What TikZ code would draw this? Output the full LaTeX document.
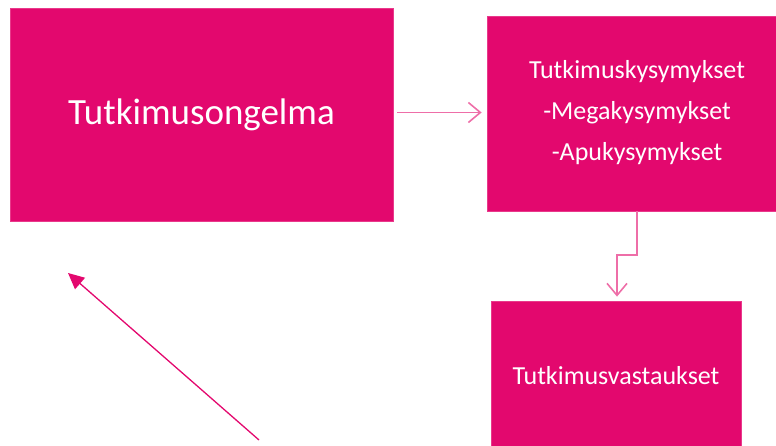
\documentclass[tikz,border=0pt]{standalone}
\usepackage{fontspec}
\setmainfont{Carlito}
\usepackage{tikz}
\usetikzlibrary{arrows.meta}
\definecolor{magentabox}{RGB}{227,8,110}
\definecolor{pinkline}{RGB}{238,110,168}
\tikzset{
  box/.style={fill=magentabox, draw=magentabox!80!white, line width=0.8pt, text=white, align=center, inner sep=0pt},
  lightarrow/.style={draw=pinkline, line width=1.8pt, -{Straight Barb[length=12pt,width=20pt,line width=1.6pt]}},
}
\begin{document}
\begin{tikzpicture}[x=1pt,y=-1pt]
  \useasboundingbox (0,0) rectangle (776,446);
  % boxes
  \node[box, minimum width=383pt, minimum height=213pt, font=\fontsize{37}{44}\selectfont] (problem) at (201.5,114.5) {Tutkimusongelma};
  \node[box, minimum width=290pt, minimum height=195pt] (questions) at (632,113.5) {};
  \node[text=white, align=center, font=\fontsize{26}{41}\selectfont] (questionstext) at (637,113) {Tutkimuskysymykset\\-Megakysymykset\\-Apukysymykset};
  \node[box, minimum width=250pt, minimum height=150pt, font=\fontsize{26}{30}\selectfont] (answers) at (616,376) {Tutkimusvastaukset};
  % connectors
  \coordinate (p1) at ([xshift=4pt,yshift=2pt]problem.east);
  \coordinate (p2) at (p1 -| questions.west);
  \draw[lightarrow] (p1) -- ([xshift=-5pt]p2);
  \draw[lightarrow] ([xshift=5pt]questions.south) -- ++(0,44) -| ([xshift=1pt,yshift=4pt]answers.north);
  \coordinate (tail) at (259,440);
  \coordinate (tip) at (68,273);
  \draw[magentabox, line width=1.3pt, -{Triangle[length=16pt,width=15pt]}] (tail) -- (tip);
\end{tikzpicture}
\end{document}
